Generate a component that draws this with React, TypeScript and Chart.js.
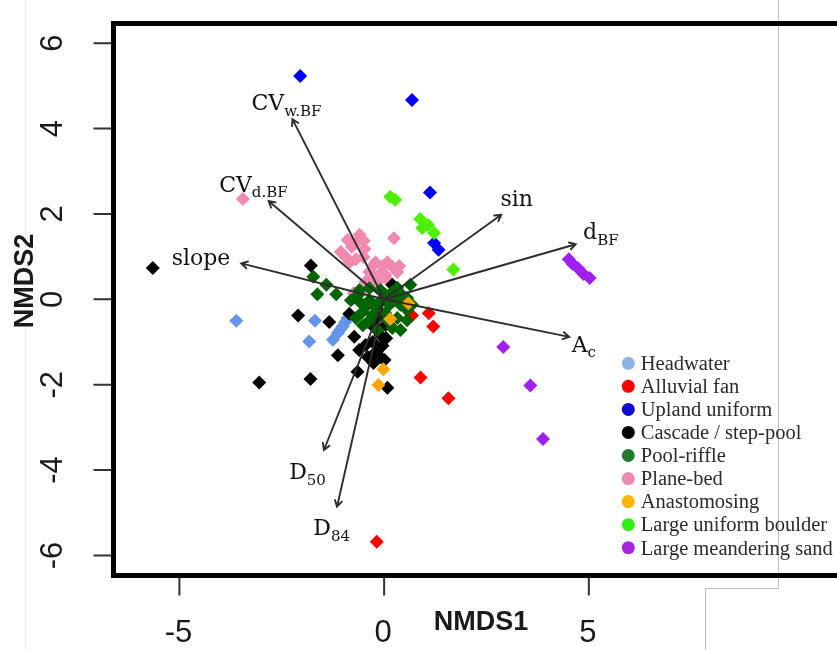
import React, { useEffect, useRef } from "react";
import { Chart, registerables } from "chart.js";

Chart.register(...registerables);

// ---------- data ----------
const groupNames = [
  "Headwater",
  "Alluvial fan",
  "Upland uniform",
  "Cascade / step-pool",
  "Pool-riffle",
  "Plane-bed",
  "Anastomosing",
  "Large uniform boulder",
  "Large meandering sand",
];
const pointColors = [
  "#6495ED",
  "#FF0000",
  "#0000FF",
  "#000000",
  "#006400",
  "#F08AB0",
  "#FFA500",
  "#4CF000",
  "#A020F0",
];
const legendColors = [
  "#8DB4E2",
  "#FF0000",
  "#1010CC",
  "#000000",
  "#267A2E",
  "#EE8AB0",
  "#FFB400",
  "#33EE11",
  "#A625E0",
];

const headwaterX = [-3.61, -1.69, -1.83, -0.89, -1.01, -1.13, -1.25, -0.95, -1.07];
const headwaterY = [-0.5, -0.5, -0.99, -0.44, -0.63, -0.79, -0.95, -0.53, -0.71];

const alluvialX = [0.68, 1.09, 1.2, 0.89, 1.57, -0.18, 0.18];
const alluvialY = [-0.38, -0.33, -0.64, -1.83, -2.32, -5.68, -0.65];

const uplandX = [-2.05, 0.68, 1.12, 1.22, 1.33];
const uplandY = [5.23, 4.67, 2.5, 1.32, 1.16];

const cascadeX = [-5.65, -1.79, -2.1, -1.34, -0.85, -0.73, -1.13, -0.61, -0.65, 0.08, -1.8, -3.05, 0.2, -0.16, -0.23, -0.09, -0.28, -0.04, -0.21, -0.4, -0.09, 0.03, 0.01, -0.26, 0.05, -0.45];
const cascadeY = [0.73, 0.79, -0.38, -0.53, -0.34, -0.88, -1.31, -1.19, -1.7, -2.07, -1.87, -1.95, 0.34, -0.44, -0.67, -0.84, -1.0, -1.09, -1.24, -1.35, -1.35, -0.6, -1.42, -1.49, -0.91, -1.07];

const poolRiffleX = [-1.73, -1.41, -1.63, -1.17, -0.81, 0.64, -0.6, -0.36, -0.09, 0.2, 0.44, -0.6, -0.36, -0.11, 0.13, 0.4, 0.56, -0.53, -0.28, 0.03, 0.32, -0.4, 0.4, -0.64, -0.45, -0.21, 0.27, 0.56, 0.68, 0.08, -0.16, 0.2, 0.56, -0.52, -0.69, 0.32, 0.03];
const poolRiffleY = [0.53, 0.34, 0.12, 0.12, -0.02, 0.34, 0.22, 0.26, 0.22, 0.17, 0.1, -0.06, -0.02, -0.06, -0.13, -0.13, -0.25, -0.3, -0.37, -0.32, -0.44, -0.53, -0.72, 0.1, -0.18, -0.18, -0.02, 0.03, -0.13, -0.49, -0.72, -0.67, -0.49, -0.61, -0.44, 0.27, 0.1];

const planeBedX = [-3.45, 0.24, -0.6, -0.79, -0.48, -0.96, -0.69, -0.26, -0.04, 0.2, -0.36, 0.03, 0.32, -0.45, -0.16, -0.57, -0.74, -0.89, -0.69, -0.5, -1.06, -0.84, -0.5, -0.21, 0.08, 0.37, 0.13, -0.26, -0.07];
const planeBedY = [2.35, 1.43, 1.51, 1.23, 1.18, 1.01, 0.94, 0.8, 0.78, 0.76, 0.64, 0.57, 0.64, 0.41, 0.41, 0.17, 0.15, 1.39, 1.32, 1.37, 1.11, 0.87, 0.99, 0.87, 0.87, 0.78, 0.41, 0.5, 0.62];

const anastomosingX = [-0.02, -0.14, 0.59, 0.15];
const anastomosingY = [-1.64, -2.01, -0.09, -0.46];

const boulderX = [0.15, 0.27, 0.88, 0.93, 1.07, 1.22, 1.69];
const boulderY = [2.4, 2.33, 1.88, 1.67, 1.74, 1.55, 0.7];

const sandX = [4.51, 4.6, 4.73, 4.87, 5.02, 2.91, 3.57, 3.88];
const sandY = [0.94, 0.83, 0.73, 0.59, 0.5, -1.12, -2.02, -3.27];

const groupX = [headwaterX, alluvialX, uplandX, cascadeX, poolRiffleX, planeBedX, anastomosingX, boulderX, sandX];
const groupY = [headwaterY, alluvialY, uplandY, cascadeY, poolRiffleY, planeBedY, anastomosingY, boulderY, sandY];
// drawing order (higher = drawn later / on top)
const groupOrder = [0, 1, 2, 4, 5, 3, 6, 7, 8];

// environmental fit vectors
const vectorMain = ["CV", "CV", "slope", "sin", "d", "A", "D", "D"];
const vectorSub = ["w.BF", "d.BF", "", "", "BF", "c", "50", "84"];
const vectorX = [-2.24, -2.82, -3.49, 2.86, 4.68, 4.52, -1.47, -1.15];
const vectorY = [4.22, 2.3, 0.84, 1.98, 1.29, -0.88, -3.53, -4.86];
const vectorLabelX = [-3.24, -4.03, -5.19, 2.84, 4.86, 4.58, -2.32, -1.73];
const vectorLabelY = [4.43, 2.52, 0.81, 2.18, 1.41, -1.23, -4.21, -5.53];

const xTicks = [-5, 0, 5];
const yTicks = [-6, -4, -2, 0, 2, 4, 6];
const xTitle = "NMDS1";
const yTitle = "NMDS2";

// ---------- plugin ----------
const nmdsPlugin = {
  id: "nmdsDecor",
  beforeDatasetsDraw(chart: any) {
    const ctx = chart.ctx;
    ctx.save();
    ctx.strokeStyle = "#ececec";
    ctx.lineWidth = 1;
    ctx.beginPath();
    ctx.moveTo(25.5, 0);
    ctx.lineTo(25.5, 650);
    ctx.stroke();
    ctx.strokeStyle = "#bdbdbd";
    ctx.beginPath();
    ctx.moveTo(778.5, 0);
    ctx.lineTo(778.5, 588.5);
    ctx.lineTo(705.5, 588.5);
    ctx.lineTo(705.5, 650);
    ctx.stroke();
    ctx.restore();
  },
  afterDatasetsDraw(chart: any) {
    const ctx = chart.ctx;
    const xs = chart.scales.x;
    const ys = chart.scales.y;
    const ox = xs.getPixelForValue(0);
    const oy = ys.getPixelForValue(0);
    ctx.save();
    ctx.strokeStyle = "#2e2e2e";
    ctx.lineWidth = 1.9;
    ctx.lineCap = "round";
    for (let i = 0; i < vectorX.length; i++) {
      const tx = xs.getPixelForValue(vectorX[i]);
      const ty = ys.getPixelForValue(vectorY[i]);
      const ang = Math.atan2(ty - oy, tx - ox);
      ctx.beginPath();
      ctx.moveTo(ox, oy);
      ctx.lineTo(tx, ty);
      const hl = 7;
      const ha = Math.PI / 6;
      ctx.moveTo(tx - hl * Math.cos(ang - ha), ty - hl * Math.sin(ang - ha));
      ctx.lineTo(tx, ty);
      ctx.lineTo(tx - hl * Math.cos(ang + ha), ty - hl * Math.sin(ang + ha));
      ctx.stroke();
    }
    ctx.fillStyle = "#111111";
    ctx.textBaseline = "alphabetic";
    ctx.textAlign = "left";
    for (let i = 0; i < vectorMain.length; i++) {
      const lx = xs.getPixelForValue(vectorLabelX[i]);
      const ly = ys.getPixelForValue(vectorLabelY[i]);
      ctx.font = "22px 'DejaVu Serif'";
      ctx.fillText(vectorMain[i], lx, ly);
      const w = ctx.measureText(vectorMain[i]).width;
      if (vectorSub[i]) {
        ctx.font = "15px 'DejaVu Serif'";
        ctx.fillText(vectorSub[i], lx + w, ly + 5.5);
      }
    }
    ctx.restore();
  },
  afterDraw(chart: any) {
    const ctx = chart.ctx;
    const xs = chart.scales.x;
    const ys = chart.scales.y;
    const a = chart.chartArea;
    ctx.save();
    // frame (right side cut off)
    ctx.strokeStyle = "#000000";
    ctx.lineWidth = 5;
    ctx.lineCap = "square";
    ctx.beginPath();
    ctx.moveTo(chart.width + 5, a.top);
    ctx.lineTo(a.left, a.top);
    ctx.lineTo(a.left, a.bottom);
    ctx.lineTo(chart.width + 5, a.bottom);
    ctx.stroke();
    // ticks
    ctx.strokeStyle = "#333333";
    ctx.lineWidth = 2;
    ctx.lineCap = "butt";
    ctx.beginPath();
    for (const v of yTicks) {
      const p = ys.getPixelForValue(v);
      ctx.moveTo(a.left - 20, p);
      ctx.lineTo(a.left - 2, p);
    }
    for (const v of xTicks) {
      const p = xs.getPixelForValue(v);
      ctx.moveTo(p, a.bottom + 2);
      ctx.lineTo(p, a.bottom + 20);
    }
    ctx.stroke();
    // tick labels
    ctx.fillStyle = "#1a1a1a";
    ctx.font = "31px 'Liberation Sans'";
    ctx.textAlign = "center";
    ctx.textBaseline = "middle";
    for (const v of xTicks) {
      const p = xs.getPixelForValue(v);
      ctx.fillText(String(v), p - 1, a.bottom + 58);
    }
    for (const v of yTicks) {
      const p = ys.getPixelForValue(v);
      ctx.save();
      ctx.translate(a.left - 60, p);
      ctx.rotate(-Math.PI / 2);
      ctx.fillText(String(v), 0, 0);
      ctx.restore();
    }
    // axis titles
    ctx.fillStyle = "#1a1a1a";
    ctx.font = "bold 27px 'Liberation Sans'";
    ctx.fillText(xTitle, 481, 623);
    ctx.save();
    ctx.translate(26, 281);
    ctx.rotate(-Math.PI / 2);
    ctx.fillText(yTitle, 0, 0);
    ctx.restore();
    // legend
    const lx = 628.3;
    const ly0 = 363.3;
    const step = 23.05;
    ctx.textAlign = "left";
    ctx.textBaseline = "alphabetic";
    ctx.font = "20.5px 'Liberation Serif'";
    chart.data.datasets.forEach((ds: any, i: number) => {
      const y = ly0 + step * i;
      ctx.fillStyle = legendColors[i];
      ctx.beginPath();
      ctx.arc(lx, y, 6.5, 0, Math.PI * 2);
      ctx.fill();
      ctx.fillStyle = "#2b2b2b";
      ctx.fillText(ds.label, lx + 12.5, y + 6.8);
    });
    ctx.restore();
  },
};

export default function App() {
  const ref = useRef<HTMLCanvasElement | null>(null);
  useEffect(() => {
    if (!ref.current) return;
    const datasets = groupNames.map((name, g) => ({
      label: name,
      data: groupX[g].map((x, i) => ({ x, y: groupY[g][i] })),
      pointStyle: "rectRot" as const,
      pointRadius: 7,
      pointHoverRadius: 7,
      backgroundColor: pointColors[g],
      borderColor: pointColors[g],
      borderWidth: 0,
      order: 20 - groupOrder[g],
    }));
    const chart = new Chart(ref.current, {
      type: "scatter",
      data: { datasets },
      options: {
        responsive: false,
        animation: false,
        devicePixelRatio: 1,
        layout: { padding: { left: 113.5, top: 23.5, right: 0, bottom: 74.5 } },
        plugins: { legend: { display: false }, tooltip: { enabled: false } },
        scales: {
          x: { type: "linear", min: -6.61, max: 10.89, display: false },
          y: { type: "linear", min: -6.47, max: 6.46, display: false },
        },
      },
      plugins: [nmdsPlugin],
    });
    return () => chart.destroy();
  }, []);
  return (
    <div style={{ position: "fixed", left: 0, top: 0, width: 837, height: 650, background: "#ffffff" }}>
      <canvas ref={ref} width={837} height={650} style={{ width: 837, height: 650, display: "block" }} />
    </div>
  );
}
